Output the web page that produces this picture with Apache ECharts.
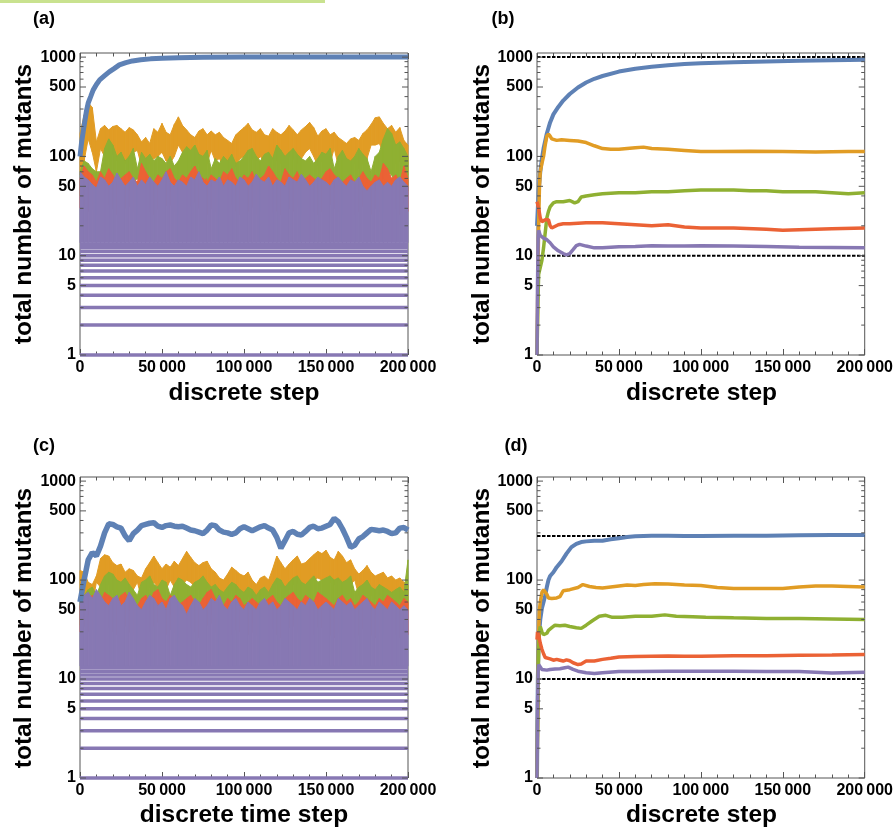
<!DOCTYPE html>
<html><head><meta charset="utf-8">
<script src="https://cdn.jsdelivr.net/npm/echarts@6/dist/echarts.min.js"></script>
<style>html,body{margin:0;padding:0;background:#fff}#c{width:896px;height:832px}</style>
</head><body><div id="c"></div><script>
const FONT = '"Liberation Sans", Arial, Helvetica, sans-serif';
const C = {blue:'#5E81B5', orange:'#E19C24', green:'#8FB032', red:'#EB6235', purple:'#8778B3'};
const X_MAX = 200000, X_TICK = 50000, X_MINOR_SPLIT = 5;
const Y_MIN = 1, Y_MAX = 1100;
const yMajorTicks = [1,5,10,50,100,500,1000];
const yMinorTicks = [2,3,4,6,7,8,9,20,30,40,60,70,80,90,200,300,400,600,700,800,900];
const binStep = 2500;               // sampling step of the noisy panels (a), (c)
const purpleLevels = [1,2,3,4,5,6,7,8,9,10,11,12,13];
const purpleBase = 13.5;

// ---------- panel (a) ----------
const aBlue = [[0,100],[1000,140],[2000,180],[3000,230],[4000,290],[5000,345],[6500,400],[8000,465],[10000,530],[12000,590],[15000,650],[18000,715],[21000,770],[24000,835],[28000,880],[32000,915],[37000,940],[43000,960],[50000,972],[60000,985],[75000,995],[100000,1000],[200000,1000]];
const aOrangeHi = [170,260,350,310,140,190,205,185,200,205,
 190,175,195,185,165,140,155,135,190,175,
 215,175,165,210,250,205,185,165,155,180,
 190,165,180,165,175,155,145,135,165,180,
 195,215,185,175,190,165,160,190,175,165,
 180,205,185,165,185,200,220,195,160,180,
 190,165,175,155,145,135,150,155,145,170,
 185,210,245,250,215,190,205,175,195,145,
 130];
const aOrangeLo = [65,90,150,110,70,120,100,95,105,90,
 100,85,95,110,115,80,75,85,95,100,
 110,90,85,100,130,110,95,90,80,85,
 100,85,115,90,95,80,75,70,80,95,
 100,110,95,90,100,85,80,95,90,85,
 95,100,95,85,95,110,120,100,80,90,
 100,85,120,80,75,70,80,85,75,85,
 95,130,130,135,110,95,100,85,90,70,
 65];
const aGreenHi = [70,90,85,75,70,70,120,150,130,100,
 110,90,100,120,75,110,95,105,90,100,
 95,85,100,80,90,110,125,115,130,105,
 100,115,75,95,85,100,90,105,85,90,
 100,115,120,100,90,105,110,95,130,115,
 100,110,120,105,95,90,100,85,95,110,
 105,120,75,100,115,95,90,100,120,105,
 95,70,100,110,150,190,170,130,140,120,
 100];
const aGreenLo = [40,45,50,45,40,45,55,60,50,45,
 50,40,45,55,60,50,45,50,40,45,
 50,40,45,40,45,50,55,50,60,50,
 45,50,55,45,40,45,40,50,40,45,
 50,55,60,50,45,50,55,45,60,55,
 45,50,55,50,45,40,45,40,45,50,
 50,55,50,45,55,45,40,45,55,50,
 45,40,45,50,60,70,65,55,55,50,
 45];
const aRedHi = [60,80,70,65,55,70,60,75,65,55,
 60,65,70,60,55,85,70,60,55,65,
 60,70,75,60,55,65,60,70,80,65,
 60,55,65,60,55,70,65,75,60,55,
 65,60,70,55,60,65,80,70,60,55,
 75,65,60,70,55,60,65,60,55,60,
 70,75,65,60,55,60,65,55,60,70,
 60,55,65,60,85,75,60,65,55,80,
 60];
const aRedLo = [30,32,28,30,26,30,28,33,30,26,
 28,30,32,28,26,35,30,28,26,30,
 28,32,33,28,26,30,28,32,35,30,
 28,26,30,28,26,32,30,33,28,26,
 30,28,32,26,28,30,35,32,28,26,
 33,30,28,32,26,28,30,28,26,28,
 32,33,30,28,26,28,30,26,28,32,
 28,26,30,28,35,33,28,30,26,35,
 28];
const aPurpleHi = [70,62,58,52,48,62,58,50,55,68,
 58,50,55,62,50,58,52,62,55,50,
 58,70,55,50,58,55,50,62,58,70,
 55,50,58,55,62,50,58,55,50,62,
 58,50,55,66,58,55,62,50,58,55,
 50,62,58,55,66,58,50,55,62,58,
 55,50,58,62,55,50,58,55,62,50,
 45,50,55,58,50,55,50,58,62,55,
 50];
const aRedDips = [[4500,60,18],[18300,55,28],[34500,50,30],[65000,55,32],[77000,60,18],[93000,50,27],[109000,55,30],[117000,60,27],[137000,50,30],[162600,50,30],[174800,55,17],[185000,60,27],[194000,50,22]];

// ---------- panel (b) ----------
const bLimits = [1000, 10];
const bBlue = [[0,20],[1000,45],[2000,70],[3000,95],[4000,120],[6000,170],[8000,220],[10000,265],[13000,315],[16000,365],[20000,425],[25000,495],[30000,555],[35000,605],[40000,645],[50000,715],[60000,765],[70000,800],[80000,828],[90000,850],[100000,868],[120000,890],[140000,905],[160000,918],[180000,930],[200000,940]];
const bOrange = [[0,1],[500,5],[1000,20],[1500,50],[2000,70],[3000,85],[4000,100],[5000,130],[6000,160],[7000,168],[8000,160],[9000,150],[10000,145],[12000,145],[15000,147],[20000,145],[25000,143],[30000,138],[35000,128],[40000,120],[45000,118],[50000,118],[55000,120],[60000,122],[65000,124],[70000,120],[80000,118],[90000,115],[100000,112],[110000,112],[130000,113],[150000,112],[170000,111],[190000,112],[200000,112]];
const bGreen = [[0,1],[500,3],[1000,6.5],[2000,6.8],[3000,9],[4000,12],[5000,17],[6000,24],[7000,28],[8000,31],[10000,34],[12000,35],[16000,35],[20000,36],[23000,34],[25000,35],[27000,39],[30000,40],[35000,41],[40000,42],[50000,43],[60000,43],[70000,44],[80000,44],[90000,45],[100000,46],[110000,46],[120000,46],[130000,45],[140000,45],[150000,44],[160000,44],[170000,44],[180000,43],[190000,42],[200000,43]];
const bRed = [[0,35],[1000,30],[2000,24],[3000,22],[4000,23],[5000,23],[6000,24],[7000,23],[8000,20],[9000,19],[10000,19.5],[13000,20.5],[16000,21],[20000,21],[30000,21.5],[40000,21.5],[50000,21],[60000,20.5],[70000,20],[80000,20.5],[90000,19.5],[100000,19],[120000,19],[140000,18.5],[150000,18],[160000,18.3],[180000,18.7],[200000,19]];
const bPurple = [[0,1],[300,5],[700,15],[1000,18],[2000,16],[4000,15],[6000,14.5],[8000,13.5],[10000,12.3],[13000,11.2],[16000,10.5],[18000,10.2],[20000,10.5],[22000,11.5],[24000,12.6],[26000,13],[30000,12.5],[35000,12],[40000,12],[50000,12.3],[60000,12.4],[70000,12.6],[80000,12.5],[90000,12.5],[100000,12.6],[120000,12.5],[140000,12.4],[160000,12.2],[180000,12.1],[200000,12]];

// ---------- panel (c) ----------
const cBlue = [60,100,160,190,175,220,300,370,365,345,
 335,280,250,295,320,355,365,375,380,350,
 340,355,360,350,345,350,335,320,315,305,
 295,320,360,355,320,305,300,290,300,330,
 345,330,315,330,345,355,335,320,270,210,
 250,300,310,290,285,310,340,350,330,335,
 350,365,420,390,330,270,215,225,260,275,
 300,325,320,315,320,310,295,300,335,340,
 320];
const cOrangeHi = [125,120,95,90,110,165,180,175,150,140,
 145,120,130,125,110,105,130,150,175,150,
 130,145,135,155,140,165,195,170,150,140,
 150,155,130,120,105,100,115,135,125,115,
 110,120,100,90,105,110,100,130,175,150,
 130,145,160,175,145,150,165,180,195,185,
 200,170,160,195,175,150,160,130,115,125,
 140,120,110,115,120,105,110,100,105,95,
 90];
const cOrangeLo = [60,65,60,55,95,85,95,90,80,75,
 80,70,75,80,95,65,75,85,95,85,
 75,80,100,85,80,90,100,95,85,80,
 85,85,75,70,65,60,70,80,75,70,
 65,70,60,55,60,65,60,75,95,85,
 75,80,90,95,80,85,90,100,105,100,
 105,95,90,100,95,85,90,100,70,75,
 80,70,65,70,70,65,65,60,65,60,
 55];
const cGreenHi = [60,70,80,85,70,90,110,120,115,100,
 95,105,90,80,70,95,100,110,90,85,
 100,95,70,90,105,100,90,85,95,100,
 110,95,85,90,80,75,85,95,90,80,
 75,85,80,70,80,85,75,90,105,100,
 85,95,105,110,95,90,100,110,95,100,
 105,110,100,105,95,100,110,75,85,90,
 100,85,80,90,85,80,75,80,85,75,
 160];
const cGreenLo = [35,40,45,50,45,50,60,65,60,55,
 50,55,50,45,45,50,55,60,50,45,
 55,50,45,50,55,55,50,45,50,55,
 60,50,45,50,45,40,45,50,50,45,
 40,45,45,40,45,45,40,50,55,55,
 45,50,55,60,50,50,55,60,50,55,
 55,60,55,55,50,55,60,50,45,50,
 55,45,45,50,45,45,40,45,45,40,
 50];
const cRedHi = [55,65,60,70,65,60,75,70,65,60,
 70,75,65,60,55,65,70,60,75,80,
 65,60,70,65,55,60,65,70,60,55,
 65,75,80,65,60,55,65,60,70,65,
 55,60,65,60,55,60,65,70,60,55,
 65,70,75,65,60,70,65,60,75,70,
 65,60,55,65,70,60,65,55,60,70,
 65,60,55,65,60,70,65,60,55,65,
 60];
const cRedLo = [30,35,30,32,28,30,35,33,30,28,
 32,35,30,28,26,30,33,30,35,38,
 30,28,32,30,26,28,30,33,30,26,
 30,35,38,30,28,26,30,28,32,30,
 26,28,30,28,26,28,30,33,28,26,
 30,33,35,30,28,33,30,28,35,33,
 30,28,26,30,33,28,30,26,28,33,
 30,28,26,30,28,33,30,28,26,30,
 28];
const cPurpleHi = [60,70,75,65,80,70,60,55,65,70,
 55,60,75,65,55,50,60,70,65,55,
 60,50,65,70,60,55,45,55,65,60,
 50,55,65,60,70,55,50,60,65,55,
 50,60,55,50,60,65,55,60,50,55,
 65,60,55,50,60,55,65,60,50,55,
 60,55,50,65,60,55,60,50,55,60,
 65,55,50,60,55,50,60,55,50,55,
 50];
const cRedDips = [[14000,55,37],[32500,55,34],[62000,60,25],[79000,55,34],[93000,55,31],[105000,55,37],[130000,55,40],[156000,55,37],[175000,55,34],[191000,55,38]];

// ---------- panel (d) ----------
const dLimits = [278, 10];
const dBlue = [[0,1],[500,10],[1000,25],[2000,40],[3000,52],[4000,60],[5000,70],[6000,85],[7000,100],[8000,110],[10000,120],[12000,135],[15000,155],[18000,185],[21000,215],[24000,232],[27000,242],[30000,246],[35000,249],[40000,250],[45000,258],[50000,265],[55000,272],[60000,277],[70000,280],[80000,280],[90000,278],[100000,279],[120000,280],[140000,281],[160000,284],[180000,285],[200000,286]];
const dOrange = [[0,1],[500,5],[1000,30],[1500,50],[2000,60],[3000,75],[4000,80],[5000,79],[6000,72],[7000,66],[9000,65],[12000,66],[14000,68],[16000,78],[20000,80],[25000,84],[28000,90],[32000,86],[36000,84],[40000,83],[45000,85],[50000,87],[55000,89],[60000,88],[65000,90],[72000,92],[80000,91],[90000,89],[100000,88],[110000,84],[120000,82],[130000,82],[140000,82],[150000,82],[160000,85],[170000,87],[180000,87],[190000,86],[200000,85]];
const dGreen = [[0,1],[500,8],[1000,20],[1500,30],[2000,34],[3000,30],[4000,28],[5000,27.5],[6000,29],[7000,31],[9000,33],[11000,35],[14000,34.5],[17000,35],[20000,34],[24000,33],[27000,32.5],[30000,35],[34000,39],[38000,43],[42000,44],[46000,42],[52000,42],[60000,43],[70000,43],[78000,44.5],[85000,43],[95000,42.5],[103000,42],[120000,41.5],[140000,41],[160000,41],[180000,40.5],[200000,40]];
const dRed = [[0,25],[300,30],[1000,28],[2000,23],[3000,20],[4000,18],[5000,16.5],[6000,15.8],[8000,16],[10000,15.5],[12000,15.8],[14000,15.5],[16000,15.2],[18000,15.6],[20000,15.3],[22000,14.6],[25000,14],[27000,14.2],[30000,15.2],[35000,15.2],[40000,15.8],[45000,16.2],[50000,16.7],[60000,16.9],[70000,17],[80000,17.1],[90000,17],[100000,17],[120000,17.2],[140000,17.2],[160000,17.4],[180000,17.5],[200000,17.7]];
const dPurple = [[0,1],[300,5],[700,12],[1000,14],[2000,13.5],[3000,12.5],[4000,12],[6000,12.3],[8000,12.5],[11000,12.6],[14000,12.7],[17000,13],[19000,13.2],[22000,12.5],[25000,12],[30000,11.6],[35000,11.4],[40000,11.6],[50000,11.9],[60000,11.9],[80000,12],[100000,12],[120000,12],[140000,11.9],[160000,11.9],[180000,11.5],[200000,11.7]];

// ================= build =================
const chart = echarts.init(document.getElementById('c'), null, {renderer:'canvas'});
const grids = [
  {left:80, top:53, width:328, height:302},
  {left:537, top:53, width:329, height:302},
  {left:80, top:477, width:328, height:301},
  {left:537, top:477, width:329, height:301}
];
const FRAME = '#555';
const xAxes = [], yAxes = [], series = [];
grids.forEach((g, gi) => {
  const base = {type:'value', gridIndex:gi, min:0, max:X_MAX, interval:X_TICK,
    splitLine:{show:false}, axisLine:{show:false},
    axisTick:{show:true, inside:true, length:6, lineStyle:{color:FRAME}},
    minorTick:{show:true, splitNumber:X_MINOR_SPLIT, length:3.5, lineStyle:{color:FRAME}},
    minorSplitLine:{show:false}};
  xAxes.push(Object.assign({}, base, {position:'bottom',
    axisLabel:{show:true, margin:5, color:'#000', fontFamily:FONT, fontWeight:'bold', fontSize:16,
      formatter: v => v === 0 ? '0' : (v/1000) + '\u2009000'}}));
  xAxes.push(Object.assign({}, base, {position:'top', axisLabel:{show:false}}));
  yAxes.push({type:'log', logBase:10, gridIndex:gi, min:Y_MIN, max:Y_MAX,
    axisLine:{show:false}, axisTick:{show:false}, axisLabel:{show:false}, splitLine:{show:false}});
});

function lineS(gi, data, color, width, extra) {
  return Object.assign({type:'line', xAxisIndex:2*gi, yAxisIndex:gi, data, showSymbol:false,
    symbol:'none', silent:true, lineStyle:{color, width}, z:2}, extra || {});
}
function binLine(gi, values, color, width) {
  return lineS(gi, values.map((v, i) => [i*binStep, v]), color, width);
}
function bandS(gi, hi, lo, color) {
  const data = [];
  for (let i = 0; i < hi.length - 1; i++) {
    data.push([i*binStep, hi[i], lo[i], (i+1)*binStep, hi[i+1], lo[i+1]]);
  }
  return {type:'custom', xAxisIndex:2*gi, yAxisIndex:gi, silent:true, data,
    encode:{x:[0,3], y:[1,2,4,5]},
    renderItem(params, api) {
      const p1 = api.coord([api.value(0), api.value(1)]);
      const p2 = api.coord([api.value(3), api.value(4)]);
      const p3 = api.coord([api.value(3), api.value(5)]);
      const p4 = api.coord([api.value(0), api.value(2)]);
      return {type:'polygon', shape:{points:[p1,p2,p3,p4]}, style:{fill:color, stroke:color, lineWidth:1}};
    }};
}
function levelS(gi, levels, color, width) {
  return {type:'custom', xAxisIndex:2*gi, yAxisIndex:gi, silent:true,
    data: levels.map(v => [0, v, X_MAX]), encode:{x:[0,2], y:1},
    renderItem(params, api) {
      const a = api.coord([api.value(0), api.value(1)]);
      const b = api.coord([api.value(2), api.value(1)]);
      return {type:'line', shape:{x1:a[0], y1:a[1], x2:b[0], y2:b[1]}, style:{stroke:color, lineWidth:width}};
    }};
}
function dipS(gi, dips, color) {
  return {type:'custom', xAxisIndex:2*gi, yAxisIndex:gi, silent:true,
    data: dips, encode:{x:0, y:[1,2]},
    renderItem(params, api) {
      const a = api.coord([api.value(0), api.value(1)]);
      const b = api.coord([api.value(0), api.value(2)]);
      return {type:'line', shape:{x1:a[0], y1:a[1], x2:b[0], y2:b[1]}, style:{stroke:color, lineWidth:1.6}};
    }};
}
function limitS(gi, limits) {
  return {type:'custom', xAxisIndex:2*gi, yAxisIndex:gi, silent:true,
    data: limits.map(v => [0, v, X_MAX]), encode:{x:[0,2], y:1}, z:2,
    renderItem(params, api) {
      const a = api.coord([api.value(0), api.value(1)]);
      const b = api.coord([api.value(2), api.value(1)]);
      return {type:'line', shape:{x1:a[0], y1:a[1], x2:b[0], y2:b[1]},
        style:{stroke:'#000', lineWidth:2, lineDash:[3.5,1.5]}};
    }};
}
function tickS(gi) {
  const data = yMajorTicks.map(v => [0, v, 1]).concat(yMinorTicks.map(v => [0, v, 0]));
  return {type:'custom', xAxisIndex:2*gi, yAxisIndex:gi, silent:true, z:10, clip:false,
    data, encode:{x:0, y:1},
    renderItem(params, api) {
      const cs = params.coordSys;
      const v = api.value(1), major = api.value(2) === 1;
      const y = api.coord([0, v])[1];
      const len = major ? 6 : 3.5;
      const ch = [
        {type:'line', shape:{x1:cs.x, y1:y, x2:cs.x+len, y2:y}, style:{stroke:FRAME, lineWidth:1}},
        {type:'line', shape:{x1:cs.x+cs.width, y1:y, x2:cs.x+cs.width-len, y2:y}, style:{stroke:FRAME, lineWidth:1}}
      ];
      if (major) ch.push({type:'text', x:cs.x-4, y:y,
        style:{text:String(v), fill:'#000', fontSize:16, fontWeight:'bold', fontFamily:FONT,
          font:'bold 16px ' + FONT, textAlign:'right', align:'right', textVerticalAlign:'middle', verticalAlign:'middle'}});
      return {type:'group', children:ch};
    }};
}

// (a)
series.push(lineS(0, aBlue, C.blue, 5));
series.push(bandS(0, aOrangeHi, aOrangeLo, C.orange));
series.push(bandS(0, aGreenHi, aGreenLo, C.green));
series.push(bandS(0, aRedHi, aRedLo, C.red));
series.push(dipS(0, aRedDips, C.red));
series.push(bandS(0, aPurpleHi, aPurpleHi.map(() => purpleBase), C.purple));
series.push(levelS(0, purpleLevels, C.purple, 3.5));
series.push(tickS(0));
// (b)
series.push(limitS(1, bLimits));
series.push(lineS(1, bBlue, C.blue, 4));
series.push(lineS(1, bOrange, C.orange, 3.5));
series.push(lineS(1, bGreen, C.green, 3.5));
series.push(lineS(1, bRed, C.red, 3.5));
series.push(lineS(1, bPurple, C.purple, 3.5));
series.push(tickS(1));
// (c)
series.push(binLine(2, cBlue, C.blue, 5.5));
series.push(bandS(2, cOrangeHi, cOrangeLo, C.orange));
series.push(bandS(2, cGreenHi, cGreenLo, C.green));
series.push(bandS(2, cRedHi, cRedLo, C.red));
series.push(dipS(2, cRedDips, C.red));
series.push(bandS(2, cPurpleHi, cPurpleHi.map(() => purpleBase), C.purple));
series.push(levelS(2, purpleLevels, C.purple, 3.5));
series.push(tickS(2));
// (d)
series.push(limitS(3, dLimits));
series.push(lineS(3, dBlue, C.blue, 4));
series.push(lineS(3, dOrange, C.orange, 3.5));
series.push(lineS(3, dGreen, C.green, 3.5));
series.push(lineS(3, dRed, C.red, 3.5));
series.push(lineS(3, dPurple, C.purple, 3.5));
series.push(tickS(3));

function txt(x, y, text, size, rot) {
  return {type:'text', x, y, rotation: rot || 0, silent:true,
    style:{text, fill:'#000', font:'bold ' + size + 'px ' + FONT, textAlign:'center', textVerticalAlign:'middle', align:'center', verticalAlign:'middle'}};
}
const graphics = [
  {type:'line', shape:{x1:0, y1:1.5, x2:325, y2:1.5}, style:{stroke:'#c9e28f', lineWidth:3}, silent:true},
  txt(44, 19, '(a)', 18),
  txt(503, 19, '(b)', 18),
  txt(44, 446, '(c)', 18),
  txt(516, 446, '(d)', 18),
  txt(24.5, 204, 'total number of mutants', 24.5, Math.PI/2),
  txt(482, 204, 'total number of mutants', 24.5, Math.PI/2),
  txt(24.5, 628, 'total number of mutants', 24.5, Math.PI/2),
  txt(482, 628, 'total number of mutants', 24.5, Math.PI/2),
  txt(244, 393, 'discrete step', 24.5),
  txt(701.5, 393, 'discrete step', 24.5),
  txt(244, 815, 'discrete time step', 24.5),
  txt(701.5, 815, 'discrete step', 24.5)
];

chart.setOption({
  animation:false,
  backgroundColor:'#fff',
  grid: grids.map(g => Object.assign({show:true, borderColor:FRAME, borderWidth:1, backgroundColor:'transparent', containLabel:false}, g)),
  xAxis: xAxes,
  yAxis: yAxes,
  series,
  graphic: graphics
});
</script></body></html>
